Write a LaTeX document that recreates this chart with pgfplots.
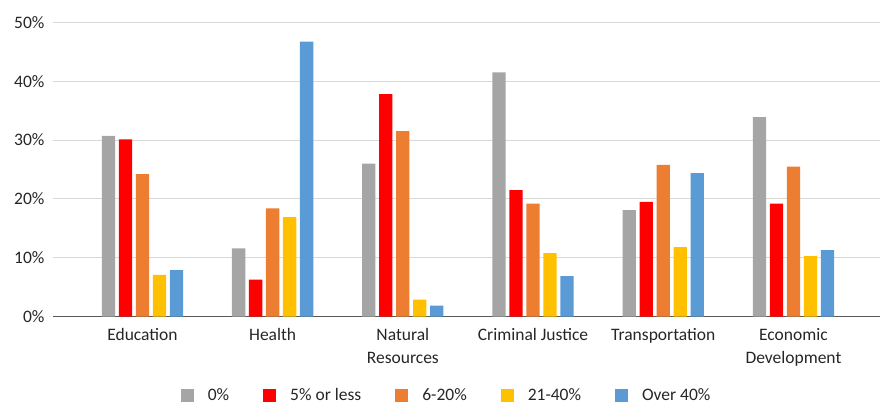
\documentclass[border=0pt]{standalone}
\usepackage{pgfplots}
\pgfplotsset{compat=1.18}
\usepackage{fontspec}
\setmainfont{Carlito}
\definecolor{cgray}{HTML}{A5A5A5}
\definecolor{cred}{HTML}{FF0000}
\definecolor{corange}{HTML}{ED7D31}
\definecolor{cyellow}{HTML}{FFC000}
\definecolor{cblue}{HTML}{5B9BD5}
\definecolor{gridc}{HTML}{D9D9D9}
\definecolor{axisc}{HTML}{595959}
\definecolor{textc}{HTML}{262626}
\begin{document}
\begin{tikzpicture}
\path[use as bounding box] (-53pt,-87.3pt) rectangle (827pt,316.7pt);
\begin{axis}[
  at={(0,0)}, anchor=south west,
  scale only axis,
  width=827pt, height=294.4pt,
  ybar=3.7pt, bar width=13.3pt,
  xmin=-0.687, xmax=5.665,
  ymin=0, ymax=50,
  ytick={0,10,20,30,40,50},
  yticklabel={\pgfmathprintnumber{\tick}\%},
  /pgf/number format/assume math mode=true,
  xtick={0,1,2,3,4,5},
  xticklabels={Education,Health,{Natural\\Resources},Criminal Justice,Transportation,{Economic\\Development}},
  xticklabel style={align=center, font=\fontsize{17.5}{23.5}\selectfont, text=textc, yshift=-8pt},
  yticklabel style={font=\fontsize{17.5}{20}\selectfont, text=textc, xshift=-5pt},
  major tick length=0pt,
  ymajorgrids, grid style={gridc, line width=1pt},
  axis x line*=bottom,
  axis y line*=left,
  x axis line style={draw=axisc, line width=1.3pt},
  y axis line style={draw=none},
  legend style={at={(0.476,-0.266)}, anchor=center, draw=none, fill=none,
    legend columns=5, font=\fontsize{17.5}{20}\selectfont, text=textc,
    /tikz/every odd column/.append style={column sep=12pt},
    /tikz/every even column/.append style={column sep=32pt}},
  legend image code/.code={\fill[#1] (0pt,-6.5pt) rectangle (13pt,6.5pt);},
]
\addplot[draw=none, fill=cgray] coordinates {(0,30.7) (1,11.6) (2,26.0) (3,41.5) (4,18.1) (5,33.9)};
\addplot[draw=none, fill=cred] coordinates {(0,30.1) (1,6.3) (2,37.8) (3,21.5) (4,19.5) (5,19.2)};
\addplot[draw=none, fill=corange] coordinates {(0,24.2) (1,18.4) (2,31.5) (3,19.2) (4,25.8) (5,25.5)};
\addplot[draw=none, fill=cyellow] coordinates {(0,7.1) (1,16.9) (2,2.9) (3,10.8) (4,11.8) (5,10.3)};
\addplot[draw=none, fill=cblue] coordinates {(0,7.9) (1,46.7) (2,1.9) (3,6.9) (4,24.4) (5,11.3)};
\legend{0\%, 5\% or less, 6-20\%, 21-40\%, Over 40\%}
\end{axis}
\end{tikzpicture}
\end{document}
